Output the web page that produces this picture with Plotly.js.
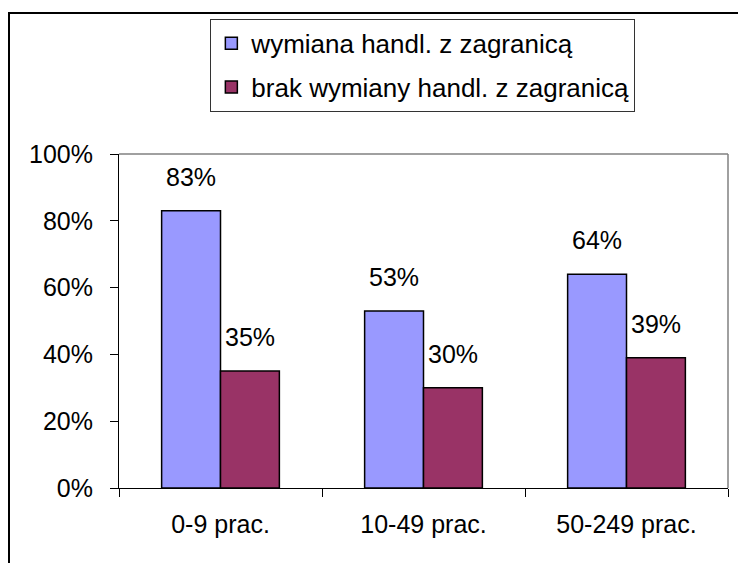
<!DOCTYPE html>
<html>
<head>
<meta charset="utf-8">
<script src="https://cdn.plot.ly/plotly-3.0.1.min.js"></script>
<style>
html, body { margin: 0; padding: 0; width: 738px; height: 563px; overflow: hidden; background: #fff; }
#frame { position: absolute; left: 8px; top: 12px; border: 2px solid #000; width: 760px; height: 600px; }
#chart { width: 760px; height: 600px; }
</style>
</head>
<body>
<div id="frame"><div id="chart"></div></div>
<script>
var categories = ['0-9 prac.', '10-49 prac.', '50-249 prac.'];
var seriesNames = ['wymiana handl. z zagranicą', 'brak wymiany handl. z zagranicą'];
var tradeValues = [0.83, 0.53, 0.64];
var noTradeValues = [0.35, 0.30, 0.39];
var yTickVals = [0, 0.2, 0.4, 0.6, 0.8, 1.0];
var yTickText = ['0%', '20%', '40%', '60%', '80%', '100%'];

var colors = ['#9999FF', '#993366'];
var series = [tradeValues, noTradeValues];
var bargap = 0.42;
var groupWidth = 1 - bargap;

var traces = series.map(function (vals, j) {
  return {
    type: 'bar',
    name: seriesNames[j],
    x: categories,
    y: vals,
    legendgroup: 'g' + j,
    marker: { color: colors[j], line: { color: '#000', width: 1.5 } },
    hoverinfo: 'skip'
  };
});

var annotations = [];
series.forEach(function (vals, j) {
  vals.forEach(function (v, i) {
    annotations.push({
      x: i + (j === 0 ? -1 : 1) * groupWidth / 4,
      xref: 'x', yref: 'y',
      y: v,
      yanchor: 'bottom',
      yshift: 18,
      text: Math.round(v * 100) + '%',
      showarrow: false,
      font: { family: 'Liberation Sans, Arial, sans-serif', size: 25, color: '#000' }
    });
  });
});

var layout = {
  width: 760, height: 600,
  margin: { l: 109, t: 140, r: 42, b: 126, autoexpand: false },
  paper_bgcolor: '#fff', plot_bgcolor: '#fff',
  font: { family: 'Liberation Sans, Arial, sans-serif', size: 25, color: '#000' },
  barmode: 'group',
  bargap: bargap,
  bargroupgap: 0,
  showlegend: true,
  legend: {
    x: 0.15, y: 1.405, xanchor: 'left', yanchor: 'top',
    bordercolor: '#333', borderwidth: 1, bgcolor: '#fff',
    font: { size: 26 },
    itemwidth: 30,
    traceorder: 'grouped', tracegroupgap: 7
  },
  xaxis: {
    type: 'category',
    showline: true, linecolor: '#000', linewidth: 1,
    ticks: 'outside', tickson: 'boundaries', ticklen: 8, tickcolor: '#000',
    showgrid: false, zeroline: false,
    ticklabelstandoff: 14
  },
  yaxis: {
    range: [0, 1],
    tickvals: yTickVals, ticktext: yTickText,
    showline: true, linecolor: '#000', linewidth: 1,
    ticks: 'outside', ticklen: 8, tickcolor: '#000',
    showgrid: false, zeroline: false,
    ticklabelstandoff: 12
  },
  shapes: [
    { type: 'line', xref: 'paper', yref: 'paper', x0: 0, x1: 1, y0: 1, y1: 1, line: { color: '#808080', width: 1.5 } },
    { type: 'line', xref: 'paper', yref: 'paper', x0: 1, x1: 1, y0: 0, y1: 1, line: { color: '#808080', width: 1.5 } }
  ],
  annotations: annotations
};

Plotly.newPlot('chart', traces, layout, { displayModeBar: false, staticPlot: true });
</script>
</body>
</html>
